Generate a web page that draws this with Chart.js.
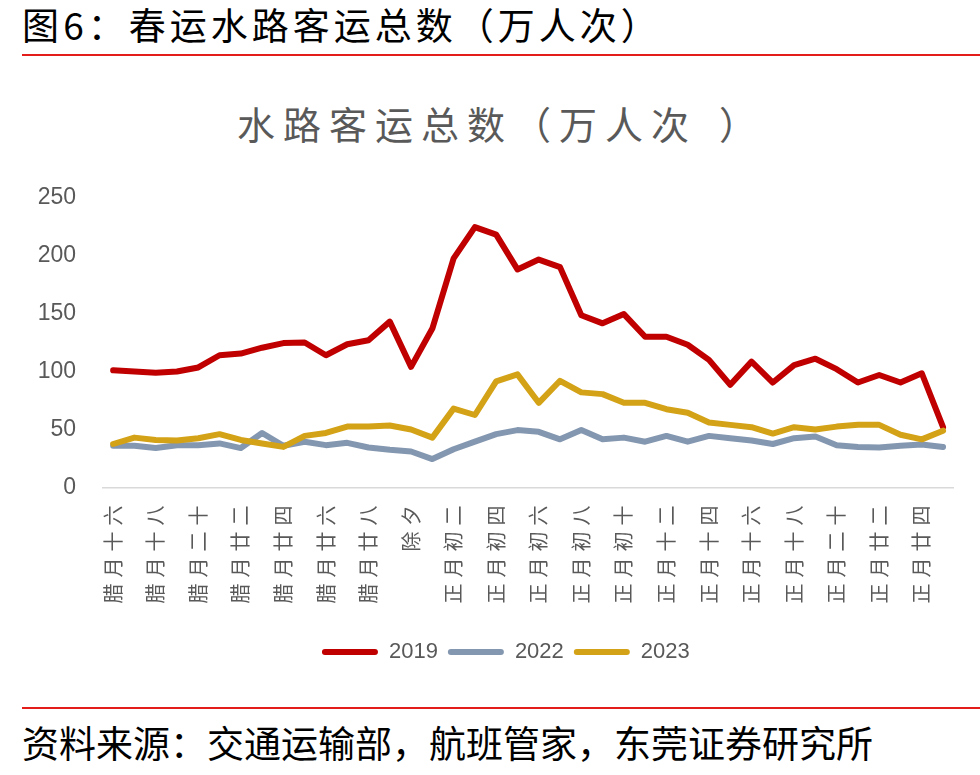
<!DOCTYPE html>
<html>
<head>
<meta charset="utf-8">
<script src="https://cdn.jsdelivr.net/npm/chart.js@4.4.1/dist/chart.umd.min.js"></script>
<style>
    body {
        margin: 0;
        width: 980px;
        height: 775px;
        position: relative;
        background: #ffffff;
        overflow: hidden;
        font-family: "Noto Sans CJK SC", sans-serif;
    }
    .fig-title {
        position: absolute;
        left: 22px;
        top: 4px;
        font-size: 37px;
        line-height: 40px;
        font-weight: 400;
        letter-spacing: 4px;
        word-spacing: -12px;
        color: #000000;
        white-space: nowrap;
    }
    .rule {
        position: absolute;
        left: 22px;
        width: 958px;
        height: 2px;
        background: #e31d1a;
    }
    .chart-title {
        position: absolute;
        left: 237px;
        top: 103px;
        font-size: 38px;
        line-height: 40px;
        font-weight: 400;
        letter-spacing: 8px;
        color: #595959;
        white-space: nowrap;
    }
    .chart-title .close {
        margin-left: 22px;
    }
    .source {
        position: absolute;
        left: 22px;
        top: 722px;
        font-size: 37px;
        line-height: 40px;
        color: #000000;
        white-space: nowrap;
    }
    .chart-box {
        position: absolute;
        left: 0;
        top: 170px;
        width: 980px;
        height: 510px;
    }
</style>
</head>
<body>
<div class="fig-title">图 6：春运水路客运总数（万人次）</div>
<div class="rule" style="top: 54px;"></div>
<div class="chart-title">水路客运总数（万人次<span class="close">）</span></div>
<div class="chart-box"><canvas id="chart"></canvas></div>
<div class="rule" style="top: 707px;"></div>
<div class="source">资料来源：交通运输部，航班管家，东莞证券研究所</div>

<script>
const categories = [
    "腊月十六", "腊月十七", "腊月十八", "腊月十九", "腊月二十", "腊月廿一", "腊月廿二", "腊月廿三",
    "腊月廿四", "腊月廿五", "腊月廿六", "腊月廿七", "腊月廿八", "腊月廿九", "除夕",
    "正月初一", "正月初二", "正月初三", "正月初四", "正月初五", "正月初六", "正月初七", "正月初八",
    "正月初九", "正月初十", "正月十一", "正月十二", "正月十三", "正月十四", "正月十五", "正月十六",
    "正月十七", "正月十八", "正月十九", "正月二十", "正月廿一", "正月廿二", "正月廿三", "正月廿四",
    "正月廿五",
];

const values2019 = [
    101, 100, 99, 100, 103.5, 114, 115.5, 120.5, 124.5, 125, 114, 123.5, 127, 143, 104,
    137, 197.5, 224.5, 218, 188, 196.5, 190, 148.5, 141.5, 149.5, 130, 130, 123, 110, 88.5,
    108.5, 90.5, 105.5, 111, 102, 90.5, 97, 90.5, 98.5, 52,
];

const values2022 = [
    36, 36, 34, 36.5, 36.5, 38, 34, 47, 36, 39.5, 36.5, 38.5, 34.5, 32.5, 31,
    24.5, 33, 39.5, 46, 49.5, 48, 41.5, 49.5, 41.5, 43, 39.5, 44.5, 39.5, 44.5, 42.5,
    40.5, 37.5, 42.5, 44, 36.5, 35, 34.5, 36, 37, 35,
];

const values2023 = [
    37.5, 43, 41, 40.5, 42.5, 46, 41, 38, 35, 44.5, 47, 52.5, 52.5, 53.5, 50,
    43, 68, 62.5, 91.5, 97.5, 73, 92, 82, 80.5, 73, 73, 67.5, 64.5, 56, 54,
    52, 46.5, 52, 50, 52.5, 54, 54, 45.5, 41.5, 49,
];

const seriesNames = ["2019", "2022", "2023"];
const seriesColors = ["#c00000", "#8497b0", "#d4a216"];

const yTicks = { min: 0, max: 250, step: 50 };

const textGray = "#595959";
const latinFont = "'Liberation Sans', Arial, sans-serif";

// x tick labels are drawn after the lines (ticks.z = 1), so spacing only hits them
const spacedTicks = {
    id: "spacedTicks",
    afterDatasetsDraw(chart) {
        chart.ctx.letterSpacing = "6px";
    },
    afterDraw(chart) {
        chart.ctx.letterSpacing = "0px";
    },
};

// legend in the original sits a bit right of the canvas centre
const legendShift = {
    id: "legendShift",
    afterLayout(chart) {
        chart.legend.left += 14;
        chart.legend.right += 14;
    },
};

function makeDataset(index, data) {
    return {
        label: seriesNames[index],
        data,
        borderColor: seriesColors[index],
        backgroundColor: seriesColors[index],
        borderWidth: 6,
        borderJoinStyle: "round",
        borderCapStyle: "round",
        pointRadius: 0,
        pointHoverRadius: 0,
        tension: 0,
        order: 2 - index,
    };
}

new Chart(document.getElementById("chart"), {
    type: "line",
    data: {
        labels: categories,
        datasets: [
            makeDataset(0, values2019),
            makeDataset(1, values2022),
            makeDataset(2, values2023),
        ],
    },
    plugins: [spacedTicks, legendShift],
    options: {
        responsive: true,
        maintainAspectRatio: false,
        animation: false,
        layout: {
            padding: { left: 30, right: 26.3, top: 27.5, bottom: 7 },
        },
        plugins: {
            title: { display: false },
            tooltip: { enabled: false },
            legend: {
                position: "bottom",
                labels: {
                    color: textGray,
                    font: { family: latinFont, size: 22 },
                    boxWidth: 56,
                    boxHeight: 6,
                    padding: 10,
                    useBorderRadius: true,
                    borderRadius: 3,
                    sort: (a, b) => a.datasetIndex - b.datasetIndex,
                    generateLabels: (chart) =>
                        Chart.defaults.plugins.legend.labels
                            .generateLabels(chart)
                            .map((item) => ({ ...item, lineWidth: 0 })),
                },
            },
        },
        scales: {
            x: {
                offset: true,
                grid: { display: false },
                border: { display: true, color: "#d9d9d9", width: 1.5 },
                ticks: {
                    z: 1,
                    autoSkip: false,
                    minRotation: 90,
                    maxRotation: 90,
                    padding: 4,
                    color: textGray,
                    font: { family: "'Noto Sans CJK SC', sans-serif", size: 20 },
                    callback: (value, index) => (index % 2 === 0 ? categories[index] : ""),
                },
                afterFit: (scale) => {
                    scale.height = 143.5;
                    scale.paddingLeft = 0;
                    scale.paddingRight = 0;
                },
            },
            y: {
                min: yTicks.min,
                max: yTicks.max,
                grid: { display: false },
                border: { display: false },
                ticks: {
                    stepSize: yTicks.step,
                    padding: 18.5,
                    color: textGray,
                    font: { family: latinFont, size: 23 },
                },
                afterFit: (scale) => {
                    scale.width = 72.5;
                    scale.paddingTop = 0;
                    scale.paddingBottom = 0;
                },
            },
        },
    },
});
</script>
</body>
</html>
